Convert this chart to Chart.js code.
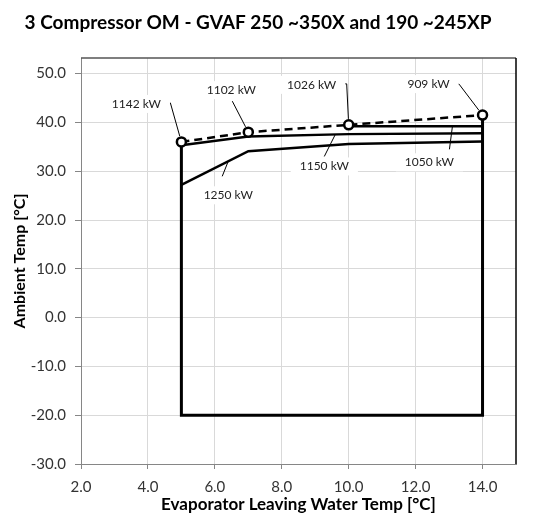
<!DOCTYPE html>
<html>
<head>
<meta charset="utf-8">
<script src="https://cdn.jsdelivr.net/npm/chart.js@4"></script>
<style>
  html, body { margin: 0; padding: 0; background: #fff; }
  #wrap { width: 551px; height: 516px; }
</style>
</head>
<body>
<div id="wrap"><canvas id="envChart"></canvas></div>
<script>
// Operating map data: leaving water temp (x) vs ambient temp (y)
const limitLwt = [5, 7, 10, 14];
const limitAmb = [36, 38, 39.5, 41.5];
const limitCapacity = ['1142 kW', '1102 kW', '1026 kW', '909 kW'];

const line1250Lwt = [5, 7, 10, 14];
const line1250Amb = [27.2, 34.1, 35.6, 36.1];
const line1150Lwt = [5, 7, 10, 14];
const line1150Amb = [35.3, 37.1, 37.6, 37.8];
const line1050Lwt = [10, 14];
const line1050Amb = [39.2, 39.2];
const lineCapacity = ['1250 kW', '1150 kW', '1050 kW'];

const envelopeLwt = [5, 5, 14, 14];
const envelopeAmb = [36, -20, -20, 41.5];

const xTicks = [2, 4, 6, 8, 10, 12, 14];
const yTicks = [-30, -20, -10, 0, 10, 20, 30, 40, 50];

const FONT = 'Lato, "Open Sans", sans-serif';

const pts = (xs, ys) => xs.map((x, i) => ({ x: x, y: ys[i] }));

// label placement: offsets in px from the anchor point on a series
const callouts = [
    { text: limitCapacity[0], series: 0, x: limitLwt[0], label: [-45, -38], leader: [[-17, -39], [-11, -39]], trim: 6 },
    { text: limitCapacity[1], series: 0, x: limitLwt[1], label: [-17, -42], leader: [[-16, -31]], trim: 6 },
    { text: limitCapacity[2], series: 0, x: limitLwt[2], label: [-37, -40], leader: [[-7.5, -41], [-2, -41]], trim: 6 },
    { text: limitCapacity[3], series: 0, x: limitLwt[3], label: [-54, -31], leader: [[-28.5, -31], [-23.5, -31]], trim: 6 },
    { text: lineCapacity[0], series: 2, x: 6.4, label: [0, 34], leader: [[-6, 15]], trim: 0 },
    { text: lineCapacity[1], series: 3, x: 9.6, label: [-11, 32], leader: [[-11, 22]], trim: 0 },
    { text: lineCapacity[2], series: 4, x: 13.1, label: [-23, 36], leader: [[-3, 23]], trim: 0 }
];

function yOnSeries(data, x) {
    for (let i = 0; i < data.length - 1; i++) {
        const a = data[i], b = data[i + 1];
        if (x >= a.x && x <= b.x) {
            return a.y + (b.y - a.y) * (x - a.x) / (b.x - a.x);
        }
    }
    return data[data.length - 1].y;
}

// top and right edges of the plot box
const framePlugin = {
    id: 'frame',
    beforeDatasetsDraw(chart) {
        const { ctx, chartArea: a } = chart;
        ctx.save();
        ctx.lineWidth = 1.5;
        ctx.strokeStyle = '#555';
        ctx.beginPath();
        ctx.moveTo(a.left, a.top);
        ctx.lineTo(a.right, a.top);
        ctx.stroke();
        ctx.strokeStyle = '#000';
        ctx.beginPath();
        ctx.moveTo(a.right, a.top);
        ctx.lineTo(a.right, a.bottom);
        ctx.stroke();
        ctx.restore();
    }
};

const calloutPlugin = {
    id: 'callouts',
    afterDatasetsDraw(chart) {
        const { ctx } = chart;
        const xs = chart.scales.x, ys = chart.scales.y;
        ctx.save();
        ctx.font = '12px ' + FONT;
        ctx.textAlign = 'center';
        ctx.textBaseline = 'middle';
        callouts.forEach(c => {
            const data = chart.data.datasets[c.series].data;
            const ax = xs.getPixelForValue(c.x);
            const ay = ys.getPixelForValue(yOnSeries(data, c.x));
            // leader line
            const path = c.leader.map(p => [ax + p[0], ay + p[1]]);
            const last = path[path.length - 1];
            const dx = ax - last[0], dy = ay - last[1];
            const len = Math.hypot(dx, dy);
            const end = [ax - dx / len * c.trim, ay - dy / len * c.trim];
            ctx.strokeStyle = '#000';
            ctx.lineWidth = 1;
            ctx.beginPath();
            ctx.moveTo(path[0][0], path[0][1]);
            path.slice(1).forEach(p => ctx.lineTo(p[0], p[1]));
            ctx.lineTo(end[0], end[1]);
            ctx.stroke();
            // label on a white box
            const lx = ax + c.label[0], ly = ay + c.label[1];
            const w = ctx.measureText(c.text).width;
            ctx.fillStyle = '#fff';
            ctx.fillRect(lx - w / 2 - 9, ly - 9, w + 18, 18);
            ctx.fillStyle = '#222';
            ctx.fillText(c.text, lx, ly);
        });
        ctx.restore();
    }
};

const solid = { borderColor: '#000', borderWidth: 2.5, pointRadius: 0, showLine: true, fill: false, tension: 0 };

new Chart(document.getElementById('envChart'), {
    type: 'scatter',
    data: {
        datasets: [
            {
                label: 'Max ambient',
                data: pts(limitLwt, limitAmb),
                showLine: true,
                borderColor: '#000',
                borderWidth: 2.5,
                borderDash: [8, 5],
                pointRadius: 4.5,
                pointBorderWidth: 2.5,
                pointBorderColor: '#000',
                pointBackgroundColor: '#fff',
                order: 0
            },
            Object.assign({ label: 'Envelope', data: pts(envelopeLwt, envelopeAmb), order: 1 }, solid, { borderWidth: 3 }),
            Object.assign({ label: '1250 kW', data: pts(line1250Lwt, line1250Amb), order: 2 }, solid),
            Object.assign({ label: '1150 kW', data: pts(line1150Lwt, line1150Amb), order: 3 }, solid),
            Object.assign({ label: '1050 kW', data: pts(line1050Lwt, line1050Amb), order: 4 }, solid)
        ]
    },
    options: {
        responsive: true,
        maintainAspectRatio: false,
        animation: false,
        layout: { padding: { left: 0, right: 35, top: 0, bottom: 0 } },
        plugins: {
            legend: { display: false },
            tooltip: { enabled: false },
            title: {
                display: true,
                text: '3 Compressor OM - GVAF 250 ~350X and 190 ~245XP',
                color: '#000',
                font: { family: FONT, size: 19, weight: 'bold' },
                padding: { top: 11.6, bottom: 23.6 }
            }
        },
        scales: {
            x: {
                type: 'linear',
                min: 2,
                max: 15,
                afterBuildTicks: axis => { axis.ticks = xTicks.map(v => ({ value: v })); },
                afterFit: axis => { axis.height = 52; },
                ticks: {
                    color: '#333',
                    font: { family: FONT, size: 15 },
                    padding: 9,
                    maxRotation: 0,
                    callback: v => v.toFixed(1)
                },
                grid: { color: '#d9d9d9', tickColor: '#868686', tickLength: 5, lineWidth: 1 },
                border: { color: '#868686', width: 1 },
                title: {
                    display: true,
                    text: 'Evaporator Leaving Water Temp [°C]',
                    color: '#000',
                    font: { family: FONT, size: 17, weight: 'bold' },
                    padding: { top: 0, bottom: 0.8 }
                }
            },
            y: {
                type: 'linear',
                min: -30,
                max: 53.2,
                afterBuildTicks: axis => { axis.ticks = yTicks.map(v => ({ value: v })); },
                afterFit: axis => { axis.width = 81; },
                ticks: {
                    color: '#333',
                    font: { family: FONT, size: 15 },
                    padding: 9,
                    callback: v => v.toFixed(1)
                },
                grid: { color: '#d9d9d9', tickColor: '#868686', tickLength: 6, lineWidth: 1 },
                border: { color: '#868686', width: 1 },
                title: {
                    display: true,
                    text: 'Ambient Temp [°C]',
                    color: '#000',
                    font: { family: FONT, size: 16, weight: 'bold' },
                    padding: { top: 10, bottom: 0 }
                }
            }
        }
    },
    plugins: [framePlugin, calloutPlugin]
});
</script>
</body>
</html>
